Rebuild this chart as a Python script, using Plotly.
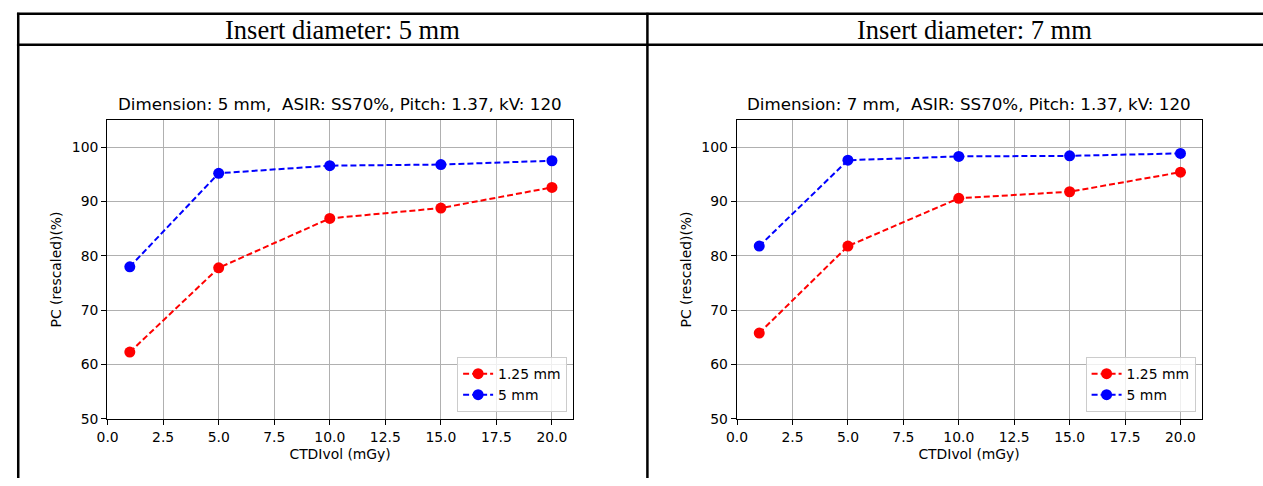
import plotly.graph_objects as go

W, H = 1263, 486

ctdi = [1, 5, 10, 15, 20]
pc_5mm_insert_125 = [62.3, 77.8, 86.9, 88.8, 92.6]
pc_5mm_insert_5 = [78.0, 95.2, 96.6, 96.8, 97.5]
pc_7mm_insert_125 = [65.8, 81.8, 90.6, 91.8, 95.4]
pc_7mm_insert_5 = [81.8, 97.6, 98.3, 98.4, 98.85]

series_names = ["1.25 mm", "5 mm"]
headers = ["Insert diameter: 5 mm", "Insert diameter: 7 mm"]
titles = ["Dimension: 5 mm,  ASIR: SS70%, Pitch: 1.37, kV: 120",
          "Dimension: 7 mm,  ASIR: SS70%, Pitch: 1.37, kV: 120"]
x_label = "CTDIvol (mGy)"
y_label = "PC (rescaled)(%)"
x_ticks = [0.0, 2.5, 5.0, 7.5, 10.0, 12.5, 15.0, 17.5, 20.0]
y_ticks = [50, 60, 70, 80, 90, 100]

def px(x):
    return x / W

def py(y):
    return (H - y) / H

fig = go.Figure()

panels = [
    (pc_5mm_insert_125, pc_5mm_insert_5, "x", "y", "legend", (97, 567)),
    (pc_7mm_insert_125, pc_7mm_insert_5, "x2", "y2", "legend2", (732, 1201)),
]
colors = ["#ff0000", "#0000ff"]
for (r, b, xa, ya, lg, _) in panels:
    for vals, name, col in [(r, series_names[0], colors[0]), (b, series_names[1], colors[1])]:
        fig.add_trace(go.Scatter(
            x=ctdi, y=vals, name=name, mode="lines+markers",
            xaxis=xa, yaxis=ya, legend=lg,
            line=dict(color=col, width=2, dash="6px,3px"),
            marker=dict(color=col, size=11),
        ))

FS = 13.9
font = dict(family="DejaVu Sans", size=FS, color="#000000")
axis_common = dict(
    showline=True, linecolor="#000000", linewidth=1, mirror=True,
    showgrid=True, gridcolor="#b0b0b0", gridwidth=1,
    ticks="outside", ticklen=5, tickwidth=1, tickcolor="#000000",
    zeroline=False, tickfont=font,
)

top, bottom = 122, 426
layout = dict(
    width=W, height=H, margin=dict(l=0, r=0, t=0, b=0),
    paper_bgcolor="white", plot_bgcolor="white",
    font=font, showlegend=True,
)
for i, (_, _, xa, ya, lg, (xl, xr)) in enumerate(panels):
    xk = "xaxis" if i == 0 else "xaxis2"
    yk = "yaxis" if i == 0 else "yaxis2"
    layout[xk] = dict(axis_common, domain=[px(xl), px(xr)], range=[-0.02, 20.95],
                      tickvals=x_ticks, ticktext=[f"{v:.1f}" for v in x_ticks],
                      anchor=ya,
                      title=dict(text=x_label, font=font, standoff=5))
    layout[yk] = dict(axis_common, domain=[py(bottom), py(top)], range=[50, 105],
                      tickvals=y_ticks, anchor=xa,
                      title=dict(text=y_label, font=font, standoff=6))
    layout[lg] = dict(
        x=px(xr - 6), y=py(bottom - 7), xanchor="right", yanchor="bottom",
        bgcolor="rgba(255,255,255,0.8)", bordercolor="#cccccc", borderwidth=1,
        font=dict(family="DejaVu Sans", size=FS, color="#000000"),
        tracegroupgap=0, itemwidth=30,
    )
fig.update_layout(**layout)

annotations = []
for i, (_, _, xa, ya, lg, (xl, xr)) in enumerate(panels):
    annotations.append(dict(
        text=titles[i], xref="paper", yref="paper",
        x=px((xl + xr) / 2), y=py(106), xanchor="center", yanchor="middle",
        showarrow=False, font=dict(family="DejaVu Sans", size=16.7, color="#000000"),
    ))
header_centers = [334, 972]
for i, h in enumerate(headers):
    annotations.append(dict(
        text=h, xref="paper", yref="paper",
        x=px(header_centers[i]), y=py(30), xanchor="center", yanchor="middle",
        showarrow=False, font=dict(family="Liberation Serif", size=26.5, color="#000000"),
    ))
fig.update_layout(annotations=annotations)

line = dict(color="#000000", width=2.5)
shapes = [
    dict(type="line", xref="paper", yref="paper", x0=px(6), x1=1, y0=py(14), y1=py(14), line=line),
    dict(type="line", xref="paper", yref="paper", x0=px(6), x1=1, y0=py(45.5), y1=py(45.5), line=line),
    dict(type="line", xref="paper", yref="paper", x0=px(7.3), x1=px(7.3), y0=py(13), y1=0, line=line),
    dict(type="line", xref="paper", yref="paper", x0=px(642), x1=px(642), y0=py(13), y1=0, line=line),
]
fig.update_layout(shapes=shapes)

# remove the default 8px page margin so the figure sits at the window origin
fig.write_html(
    "out.html",
    config={"displayModeBar": False},
    post_script="document.body.style.margin='0';document.body.style.overflow='hidden';",
)
